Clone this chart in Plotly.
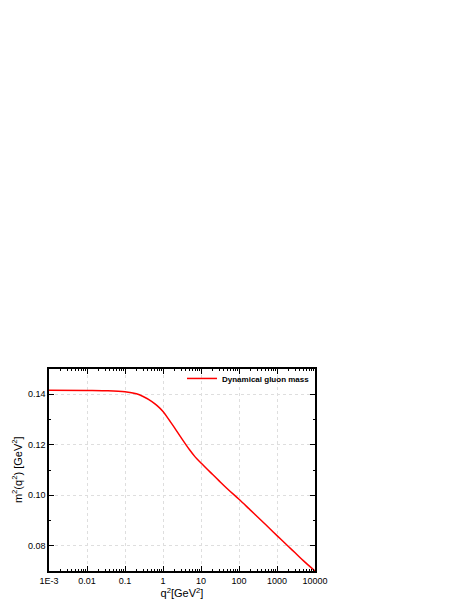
import plotly.graph_objects as go

# Data
q2 = [1e-3, 0.01, 0.03, 0.1, 0.2, 0.3, 0.5, 0.7, 1, 1.5, 2, 3, 5, 7,
      10, 20, 30, 50, 100, 200, 300, 500, 1000, 2000, 3000, 5000, 10000]
m2 = [0.1416, 0.1415, 0.1414, 0.1410, 0.1402, 0.1391, 0.1372, 0.1355, 0.1332,
      0.1295, 0.1268, 0.1228, 0.1180, 0.1152, 0.1128, 0.1083, 0.1057, 0.1025,
      0.0984, 0.0941, 0.0916, 0.0884, 0.0840, 0.0797, 0.0772, 0.0740, 0.0700]

x_tickvals = [1e-3, 0.01, 0.1, 1, 10, 100, 1000, 10000]
x_ticktext = ["1E-3", "0.01", "0.1", "1", "10", "100", "1000", "10000"]
x_minor = [m * d for d in x_tickvals[:-1] for m in range(2, 10)]

fig = go.Figure()
fig.add_trace(go.Scatter(
    x=q2, y=m2, mode="lines",
    line=dict(color="#ff0000", width=1.5, shape="spline", smoothing=1.0),
    name="<b>Dynamical gluon mass</b>",
))

# page body adds ~8px offset, so margins are shifted by that amount
fig.update_layout(
    width=468, height=605,
    margin=dict(l=41, r=161, t=361, b=42),
    paper_bgcolor="white", plot_bgcolor="white",
    font=dict(family="Liberation Sans, Arial, sans-serif", size=9, color="black"),
    showlegend=True,
    legend=dict(x=0.5, y=1.025, xanchor="left", yanchor="top",
                bgcolor="rgba(0,0,0,0)", font=dict(size=8),
                tracegroupgap=0, itemwidth=30),
)

# y title as annotation, kept just inside the figure's left edge
fig.add_annotation(
    text="m<sup>2</sup>(q<sup>2</sup>) [GeV<sup>2</sup>]",
    xref="paper", yref="paper", x=-0.12, y=0.5,
    xanchor="center", yanchor="middle", textangle=-90,
    showarrow=False, font=dict(size=11),
)

fig.update_xaxes(
    type="log", range=[-3, 4], automargin=False,
    tickvals=x_tickvals, ticktext=x_ticktext,
    ticks="inside", ticklen=5, tickwidth=1, tickcolor="black",
    minor=dict(tickvals=x_minor, ticks="inside", ticklen=2.5, tickcolor="black",
               showgrid=False),
    showline=True, linewidth=1.5, linecolor="black", mirror="allticks",
    showgrid=True, gridcolor="#dedede", griddash="dot", gridwidth=1,
    zeroline=False,
    title=dict(text="q<sup>2</sup>[GeV<sup>2</sup>]", font=dict(size=11), standoff=2),
)

fig.update_yaxes(
    range=[0.07, 0.15], tickvals=[0.08, 0.10, 0.12, 0.14], tickformat=".2f",
    automargin=False,
    ticks="inside", ticklen=5, tickwidth=1, tickcolor="black",
    minor=dict(tickvals=[0.07, 0.09, 0.11, 0.13, 0.15], ticks="inside", ticklen=2.5,
               tickcolor="black", showgrid=False),
    showline=True, linewidth=1.5, linecolor="black", mirror="allticks",
    showgrid=True, gridcolor="#dedede", griddash="dot", gridwidth=1,
    zeroline=False,
)

fig.write_html("out.html")
